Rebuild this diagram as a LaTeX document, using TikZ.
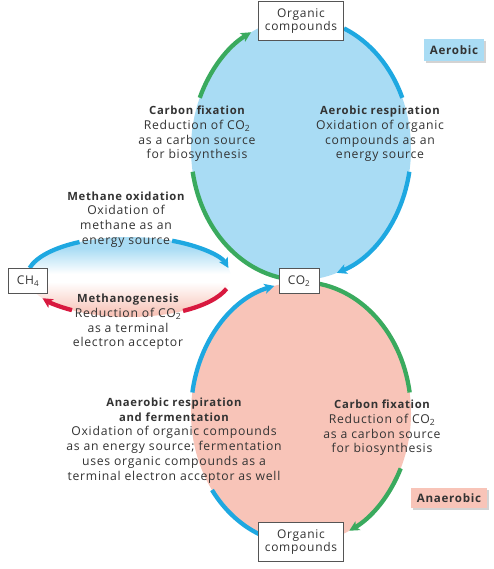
\documentclass[tikz,border=0pt]{standalone}
\usepackage{fontspec}
\setmainfont{Open Sans}[LetterSpace=6.0]
\usetikzlibrary{arrows.meta,shadows}
\definecolor{aerofill}{HTML}{A9DCF4}
\definecolor{anafill}{HTML}{F8C4B8}
\definecolor{arcblue}{HTML}{1EA8E1}
\definecolor{arcgreen}{HTML}{3AAA5E}
\definecolor{arcred}{HTML}{D8193F}
\definecolor{txt}{HTML}{333333}
\definecolor{boxline}{HTML}{555555}
\pgfdeclareverticalshading{methshade}{100bp}{color(0bp)=(anafill); color(27bp)=(anafill); color(47bp)=(white); color(52bp)=(white); color(68bp)=(aerofill); color(100bp)=(aerofill)}
\newcommand\hd[1]{{\fontsize{11.3}{14.7}\selectfont\bfseries #1}}
\tikzset{
  x=1pt,y=1pt,
  flow/.style={line width=4.3pt},
  tipped/.style={flow,-{Stealth[length=10pt,width=10pt,inset=2.5pt]}},
  cbox/.style={draw=boxline,line width=0.8pt,fill=white,text=txt,inner sep=0pt,align=center,font=\fontsize{12}{13.5}\selectfont},
  lbl/.style={text=txt,align=center,inner sep=0pt,font=\fontsize{12.2}{14.7}\selectfont},
  tag/.style={inner sep=0pt,text=txt,font=\bfseries\fontsize{11.6}{13}\selectfont,drop shadow={opacity=0.35,shadow xshift=2pt,shadow yshift=-2pt}}
}
\begin{document}
\begin{tikzpicture}
\useasboundingbox (0,0) rectangle (493,-569);
\coordinate (U) at (301,-149);
\coordinate (L) at (301,-413);
\coordinate (M) at (129,-277);
% fills
\fill[aerofill] (U) ellipse [x radius=110pt,y radius=131pt];
\fill[anafill] (L) ellipse [x radius=110pt,y radius=131pt];
\shade[shading=methshade] (M) ellipse [x radius=102pt,y radius=40pt];
% upper ellipse arcs
\draw[flow,arcgreen] (U) ++(270:110pt and 131pt) arc[start angle=270,end angle=190,x radius=110pt,y radius=131pt];
\draw[tipped,arcgreen] (U) ++(157:110pt and 131pt) arc[start angle=157,end angle=117,x radius=110pt,y radius=131pt];
\draw[flow,arcblue] (U) ++(67:110pt and 131pt) arc[start angle=67,end angle=23,x radius=110pt,y radius=131pt];
\draw[tipped,arcblue] (U) ++(-10:110pt and 131pt) arc[start angle=-10,end angle=-71,x radius=110pt,y radius=131pt];
% lower ellipse arcs
\draw[flow,arcgreen] (L) ++(90:110pt and 131pt) arc[start angle=90,end angle=9,x radius=110pt,y radius=131pt];
\draw[tipped,arcgreen] (L) ++(-25:110pt and 131pt) arc[start angle=-25,end angle=-64,x radius=110pt,y radius=131pt];
\draw[flow,arcblue] (L) ++(250:110pt and 131pt) arc[start angle=250,end angle=216,x radius=110pt,y radius=131pt];
\draw[tipped,arcblue] (L) ++(171:110pt and 131pt) arc[start angle=171,end angle=104,x radius=110pt,y radius=131pt];
% methane ellipse arcs
\draw[flow,arcblue] (M) ++(167:102pt and 40pt) arc[start angle=167,end angle=119,x radius=102pt,y radius=40pt];
\draw[tipped,arcblue] (M) ++(65:102pt and 40pt) arc[start angle=65,end angle=13,x radius=102pt,y radius=40pt];
\draw[flow,arcred] (M) ++(-17:102pt and 40pt) arc[start angle=-17,end angle=-58,x radius=102pt,y radius=40pt];
\draw[tipped,arcred] (M) ++(-124:102pt and 40pt) arc[start angle=-124,end angle=-148,x radius=102pt,y radius=40pt];
% boxes
\node[cbox,minimum width=85pt,minimum height=39pt] (orgtop) at (301,-21) {Organic\\compounds};
\node[cbox,minimum width=85pt,minimum height=39pt] (orgbot) at (301,-542) {Organic\\compounds};
\node[cbox,minimum width=40pt,minimum height=25pt] (co2) at (299,-281) {CO\textsubscript{2}};
\node[cbox,minimum width=39pt,minimum height=25pt] (ch4) at (28,-281) {CH\textsubscript{4}};
\node[tag,fill=aerofill,minimum width=60pt,minimum height=22pt] (aerobic) at (454,-50) {Aerobic};
\node[tag,fill=anafill,minimum width=76pt,minimum height=20pt] (anaerobic) at (449,-498) {Anaerobic};
% texts
\node[lbl] (cfup) at (197,-134) {\hd{Carbon fixation}\\Reduction of CO\textsubscript{2}\\as a carbon source\\for biosynthesis};
\node[lbl] (aresp) at (380,-134) {\hd{Aerobic respiration}\\Oxidation of organic\\compounds as an\\energy source};
\node[lbl] (mox) at (126,-219.5) {\hd{Methane oxidation}\\Oxidation of\\methane as an\\energy source};
\node[lbl] (mgen) at (128,-322) {\hd{Methanogenesis}\\Reduction of CO\textsubscript{2}\\as a terminal\\electron acceptor};
\node[lbl] (anresp) at (174,-440.5) {\hd{Anaerobic respiration}\\\hd{and fermentation}\\Oxidation of organic compounds\\as an energy source; fermentation\\uses organic compounds as a\\terminal electron acceptor as well};
\node[lbl] (cflow) at (382,-428) {\hd{Carbon fixation}\\Reduction of CO\textsubscript{2}\\as a carbon source\\for biosynthesis};
\end{tikzpicture}
\end{document}
